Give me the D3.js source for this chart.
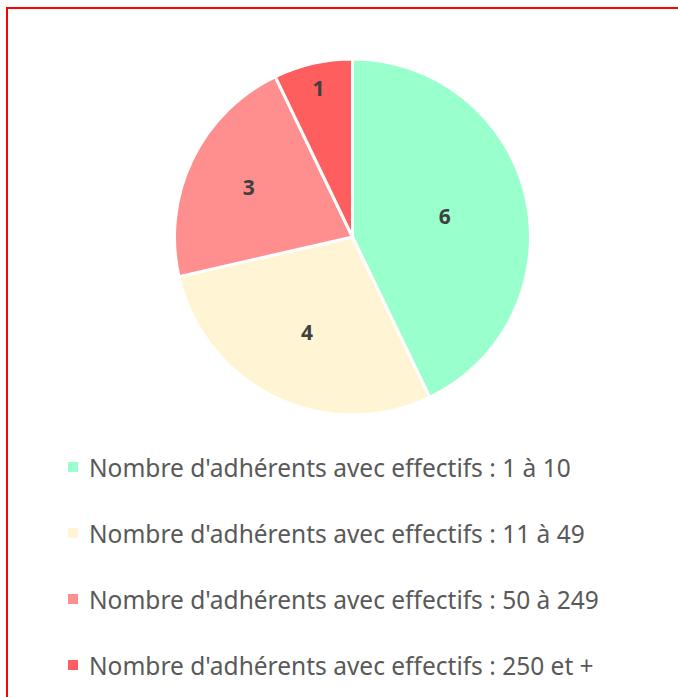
<!DOCTYPE html>
<html>
<head>
<meta charset="utf-8">
<script src="https://cdn.jsdelivr.net/npm/d3@7"></script>
<style>
  body { margin: 0; background: #fff; }
</style>
</head>
<body>
<div id="chart-area"></div>
<script>
// donnees
var categories = [
    "Nombre d'adhérents avec effectifs : 1 à 10",
    "Nombre d'adhérents avec effectifs : 11 à 49",
    "Nombre d'adhérents avec effectifs : 50 à 249",
    "Nombre d'adhérents avec effectifs : 250 et +"
];
var values = [6, 4, 3, 1];
var colors = ["#99FFCC", "#FFF5D4", "#FF8F8F", "#FF5E5E"];

var width = 678, height = 697;
var cx = 352.5, cy = 237, radius = 178;
var fontFamily = "'Noto Sans', 'DejaVu Sans', sans-serif";

var svg = d3.select("#chart-area").append("svg")
    .attr("width", width)
    .attr("height", height);

// cadre rouge
svg.append("rect")
    .attr("x", 7).attr("y", 8)
    .attr("width", 690).attr("height", 720)
    .attr("fill", "none")
    .attr("stroke", "#FF0000")
    .attr("stroke-width", 2);

var data = categories.map(function(c, i) {
    return { name: c, value: values[i], color: colors[i] };
});

var pie = d3.pie().sort(null).value(function(d) { return d.value; });
var arc = d3.arc().innerRadius(0).outerRadius(radius);

var g = svg.append("g").attr("transform", "translate(" + cx + "," + cy + ")");

var slices = pie(data);

g.selectAll("path")
    .data(slices)
    .enter()
    .append("path")
    .attr("d", arc)
    .attr("fill", function(d) { return d.data.color; })
    .attr("stroke", "#fff")
    .attr("stroke-width", 3)
    .attr("stroke-linejoin", "round");

// etiquettes placees au centre du plus grand cercle inscrit dans la part
g.selectAll("text")
    .data(slices)
    .enter()
    .append("text")
    .attr("transform", function(d) {
        var half = (d.endAngle - d.startAngle) / 2;
        var mid = d.startAngle + half;
        var dist = half >= Math.PI / 2 ? radius / 2 : radius / (1 + Math.sin(half));
        dist = dist * 1.05;
        return "translate(" + (dist * Math.sin(mid)) + "," + (-dist * Math.cos(mid)) + ")";
    })
    .attr("text-anchor", "middle")
    .attr("dominant-baseline", "central")
    .attr("font-family", fontFamily)
    .attr("font-weight", "bold")
    .attr("font-size", 21)
    .attr("fill", "#404040")
    .text(function(d) { return d.data.value; });

// legende
var legendY = d3.scalePoint()
    .domain(categories)
    .range([467, 665]);

var legend = svg.selectAll(".legend")
    .data(data)
    .enter()
    .append("g")
    .attr("class", "legend")
    .attr("transform", function(d) { return "translate(68," + legendY(d.name) + ")"; });

legend.append("rect")
    .attr("x", 0).attr("y", -5)
    .attr("width", 10).attr("height", 10)
    .attr("fill", function(d) { return d.color; });

var legendText = legend.append("text")
    .attr("x", 21)
    .attr("y", 0)
    .attr("dominant-baseline", "central")
    .attr("font-family", fontFamily)
    .attr("font-size", 21)
    .attr("fill", "#595959")
    .text(function(d) { return d.name; });

// ajuste la taille pour que la 1re ligne fasse environ 482px comme l'original
var w0 = legendText.node().getComputedTextLength();
if (w0 > 0) {
    legendText.attr("font-size", 21 * 482 / w0);
}
</script>
</body>
</html>
